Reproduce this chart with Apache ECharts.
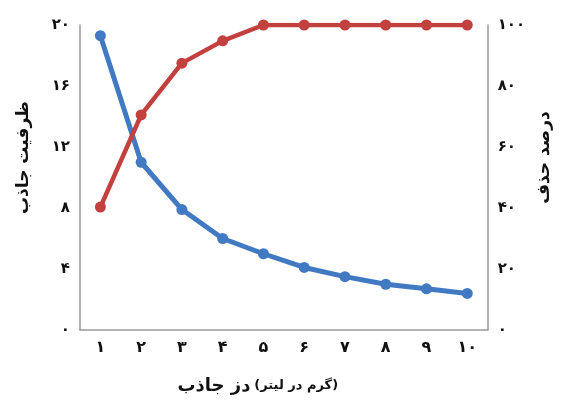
<!DOCTYPE html>
<html><head><meta charset="utf-8">
<script src="https://cdn.jsdelivr.net/npm/echarts@6/dist/echarts.min.js"></script>
<style>html,body{margin:0;padding:0;background:#fff}#c{width:561px;height:401px}</style>
</head><body><div id="c"></div>
<script>
const categories = ['۱','۲','۳','۴','۵','۶','۷','۸','۹','۱۰'];
const capacity = [19.3, 11.0, 7.9, 6.0, 5.0, 4.1, 3.5, 3.0, 2.7, 2.4];
const removal = [40.3, 70.5, 87.5, 94.8, 100, 100, 100, 100, 100, 100];
const leftTicks = ['۰','۴','۸','۱۲','۱۶','۲۰'];
const rightTicks = ['۰','۲۰','۴۰','۶۰','۸۰','۱۰۰'];
const leftName = 'ظرفیت جاذب';
const rightName = 'درصد حذف';
const xNameMain = 'دز جاذب';
const xNameUnit = '(گرم در لیتر)';

const F = 'DejaVu Sans';
const chart = echarts.init(document.getElementById('c'));
chart.setOption({
  animation: false,
  textStyle: {fontFamily: F},
  grid: {left: 80, right: 64, top: 25, bottom: 71},
  xAxis: {
    type: 'category', data: categories, boundaryGap: true,
    axisLine: {lineStyle: {color: '#9a9a9a', width: 1.5}},
    axisTick: {show: false},
    axisLabel: {color: '#111', fontWeight: 'bold', fontSize: 16, fontFamily: F, margin: 10},
    name: '{b|' + xNameMain + '} {s|' + xNameUnit + '}',
    nameLocation: 'middle', nameGap: 47,
    nameTextStyle: {
      padding: [0, 52, 0, 0],
      rich: {
        b: {fontSize: 18, fontWeight: 'bold', color: '#111', fontFamily: F},
        s: {fontSize: 13, fontWeight: 'bold', color: '#111', fontFamily: F}
      }
    }
  },
  yAxis: [{
    type: 'value', min: 0, max: 20, interval: 4, position: 'left',
    axisLine: {show: true, lineStyle: {color: '#9a9a9a', width: 1.5}},
    axisTick: {show: false}, splitLine: {show: false},
    axisLabel: {color: '#111', fontWeight: 'bold', fontSize: 15, fontFamily: F, margin: 10,
      formatter: v => leftTicks[Math.round(v / 4)]},
    name: leftName, nameLocation: 'middle', nameGap: 48, nameRotate: 90,
    nameTextStyle: {color: '#111', fontWeight: 'bold', fontSize: 17, fontFamily: F, padding: [0, 0, 0, 40]}
  }, {
    type: 'value', min: 0, max: 100, interval: 20, position: 'right',
    axisLine: {show: true, lineStyle: {color: '#9a9a9a', width: 1.5}},
    axisTick: {show: false}, splitLine: {show: false},
    axisLabel: {color: '#111', fontWeight: 'bold', fontSize: 15, fontFamily: F, margin: 10,
      formatter: v => rightTicks[Math.round(v / 20)]},
    name: rightName, nameLocation: 'middle', nameGap: 42, nameRotate: 90,
    nameTextStyle: {color: '#111', fontWeight: 'bold', fontSize: 17, fontFamily: F, padding: [0, 0, 0, 40]}
  }],
  series: [{
    type: 'line', yAxisIndex: 0, data: capacity,
    symbol: 'circle', symbolSize: 11,
    lineStyle: {color: '#4179C3', width: 5},
    itemStyle: {color: '#4179C3'}
  }, {
    type: 'line', yAxisIndex: 1, data: removal,
    symbol: 'circle', symbolSize: 11,
    lineStyle: {color: '#C2403E', width: 4.5},
    itemStyle: {color: '#C2403E'}
  }]
});
</script></body></html>
